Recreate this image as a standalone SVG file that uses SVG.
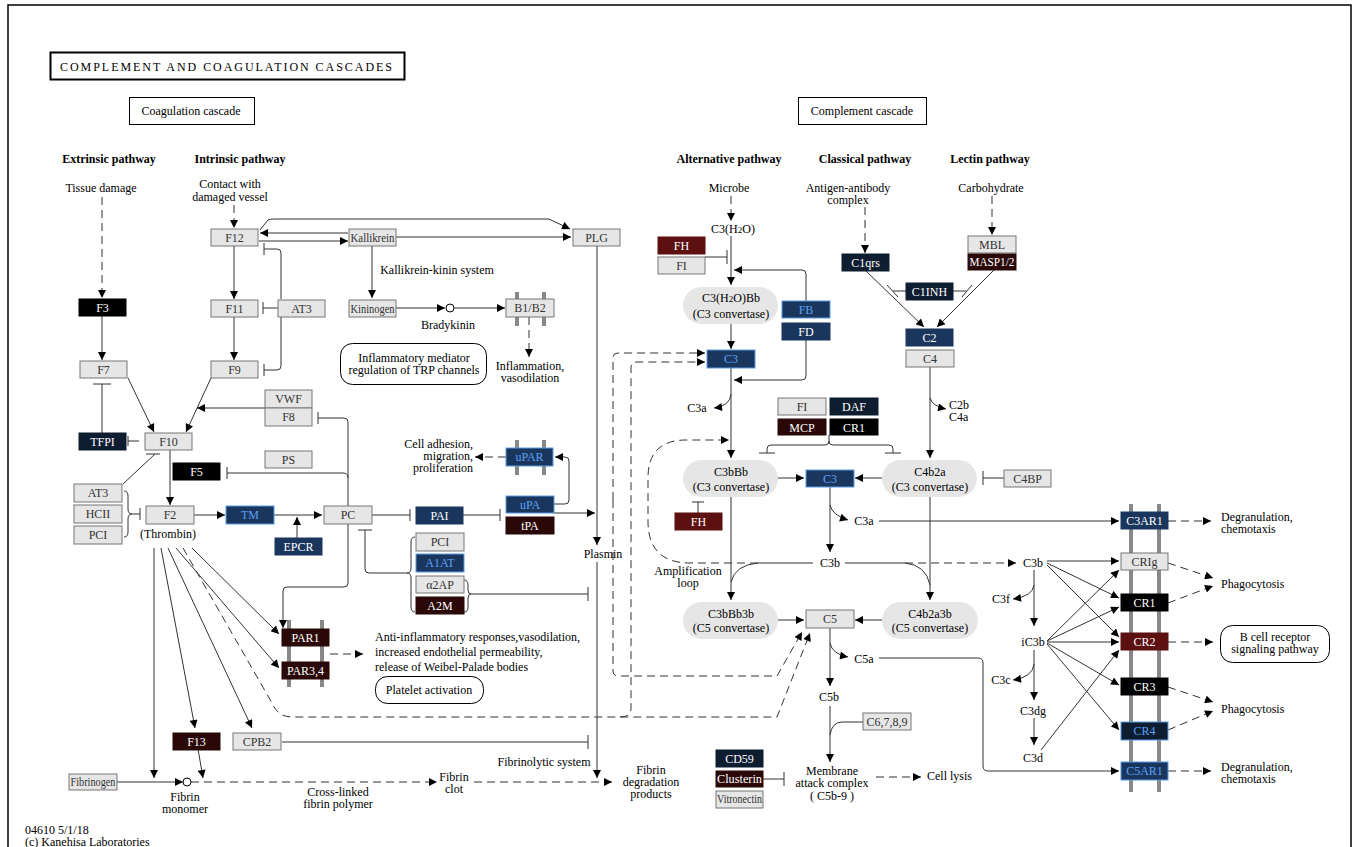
<svg xmlns="http://www.w3.org/2000/svg" width="1354" height="847" viewBox="0 0 1354 847">
<style>
.s{fill:none;stroke:#333;stroke-width:1}
.d{fill:none;stroke:#333;stroke-width:1;stroke-dasharray:8 5}
.ar{marker-end:url(#ah)}
.t{font-family:"Liberation Serif",serif;font-size:12px;fill:#000}
.c{text-anchor:middle}
.e{text-anchor:end}
.b{font-weight:bold}
.n text{font-family:"Liberation Serif",serif;font-size:12px;text-anchor:middle}
.g rect{fill:#e6e6e6;stroke:#777}
.g text{fill:#333}
.nv rect{fill:#1b365d;stroke:#1b365d}
.nv text{fill:#fff}
.nb rect{fill:#1b365d;stroke:#5b9be6}
.nb text{fill:#5ba2f5}
.nd rect{fill:#0f1d30;stroke:#0f1d30}
.nd text{fill:#fff}
.ndb rect{fill:#0f1d30;stroke:#5b9be6}
.ndb text{fill:#5ba2f5}
.bk rect{fill:#000;stroke:#000}
.bk text{fill:#fff}
.br rect{fill:#2a0808;stroke:#2a0808}
.br text{fill:#fff}
.rd rect{fill:#5c1010;stroke:#5c1010}
.rd text{fill:#fff}
.el rect{fill:#e6e6e6;stroke:none}
.mb{stroke:#888;stroke-width:4}
.box{fill:#fff;stroke:#000;stroke-width:1}
</style>
<defs>
<marker id="ah" viewBox="0 0 10 10" refX="10" refY="5" markerWidth="9" markerHeight="8" markerUnits="userSpaceOnUse" orient="auto"><path d="M0,0 L10,5 L0,10 z" fill="#000"/></marker>
</defs>
<rect x="0" y="0" width="1354" height="847" fill="#fff"/>
<rect x="8" y="5" width="1343" height="860" fill="none" stroke="#000" stroke-width="1.5"/>

<g id="titles">
<rect x="50.5" y="52.5" width="354" height="27" fill="#fff" stroke="#000" stroke-width="2"/>
<text class="t" x="60" y="71" textLength="332" lengthAdjust="spacing" font-size="13">COMPLEMENT AND COAGULATION CASCADES</text>
<rect class="box" x="129.5" y="97.5" width="125" height="27"/>
<text class="t c" x="191" y="115">Coagulation cascade</text>
<rect class="box" x="798.5" y="97.5" width="128" height="27"/>
<text class="t c" x="862" y="115">Complement cascade</text>
<text class="t c b" x="109" y="163">Extrinsic pathway</text>
<text class="t c b" x="240" y="163">Intrinsic pathway</text>
<text class="t c b" x="729" y="163">Alternative pathway</text>
<text class="t c b" x="865" y="163">Classical pathway</text>
<text class="t c b" x="990" y="163">Lectin pathway</text>
</g>

<g id="membranes">
<line class="mb" x1="1131" y1="504" x2="1131" y2="792"/>
<line class="mb" x1="1159" y1="504" x2="1159" y2="792"/>
<line class="mb" x1="289" y1="620" x2="289" y2="687"/>
<line class="mb" x1="322" y1="620" x2="322" y2="687"/>
<line class="mb" x1="517" y1="440" x2="517" y2="475"/>
<line class="mb" x1="544" y1="440" x2="544" y2="475"/>
<line class="mb" x1="517" y1="292" x2="517" y2="326"/>
<line class="mb" x1="544" y1="292" x2="544" y2="326"/>
</g>

<g id="connectors">
<path class="d ar" d="M102,197 V298"/>
<path class="d ar" d="M234,205 V228"/>
<path class="s ar" d="M348,233 H260"/>
<path class="s ar" d="M259,241 H348"/>
<path class="s" d="M281,299 V253 Q281,249 277,249 H264 M264,243 V255"/>
<path class="s" d="M281,317 V366 Q281,370 277,370 H264 M264,364 V376"/>
<path class="s" d="M278,308 H263 M263,302 V314"/>
<path class="s ar" d="M234,246 V299"/>
<path class="s ar" d="M234,317 V360"/>
<path class="s ar" d="M102,316 V360"/>
<path class="s ar" d="M128,378 L154,432"/>
<path class="s ar" d="M211,378 L186,432"/>
<path class="s ar" d="M265,408 H197"/>
<path class="s" d="M102,433 V384 M93,384 H111"/>
<path class="s" d="M128,441 H139 M128,436 V446"/>
<path class="s" d="M123,484 L155,454 M146,454 H160"/>
<path class="s" d="M124,491 Q128,491 128,496 V509 Q128,514 132,514 Q128,514 128,519 V532 Q128,537 124,537 M132,514 H140 M140,508 V520"/>
<path class="s ar" d="M170,450 V505"/>
<path class="s ar" d="M194,515 H225"/>
<path class="s ar" d="M274,515 H322"/>
<path class="s ar" d="M297,538 V517"/>
<path class="s" d="M348,506 V422 Q348,418 344,418 H318 M318,412 V424"/>
<path class="s" d="M348,478 Q348,473 343,473 H227 M227,467 V479"/>
<path class="s ar" d="M348,524 V583 Q348,587 344,587 H287 Q283,587 283,591 V628"/>
<path class="s" d="M372,515 H410 M410,509 V521"/>
<path class="s" d="M463,515 H500 M500,509 V521"/>
<path class="s" d="M358,530 H372 M365,530 V569 Q365,573 369,573 H407"/>
<path class="s" d="M415,537 Q411,537 411,542 V568 Q411,573 407,573 Q411,573 411,578 V607 Q411,612 415,612"/>
<path class="s" d="M464,580 Q468,580 468,585 V590 Q468,594 471,594 Q468,594 468,598 V607 Q468,612 464,612 M471,594 H588 M588,587 V601"/>
<path class="s ar" d="M554,504 H565 Q569,504 569,500 V461 Q569,457 565,457 H555"/>
<path class="d ar" d="M506,457 H475"/>
<path class="s ar" d="M554,513 H595"/>
<path class="s ar" d="M597,246 V545"/>
<path class="s ar" d="M597,562 V778"/>
<path class="d ar" d="M474,782 H612"/>
<path class="s" d="M282,742 H588 M588,735 V749"/>
<path class="s ar" d="M154,548 V778"/>
<path class="s ar" d="M161,548 L195,728"/>
<path class="s ar" d="M168,548 L252,728"/>
<path class="s ar" d="M176,548 L279,668"/>
<path class="s ar" d="M192,548 L279,634"/>
<path class="d ar" d="M183,548 L272,703 Q278,717 292,717 H777 L810,633"/>
<path class="d ar" d="M620,717 Q631,717 631,708 V368 Q631,362 637,362 H705"/>
<path class="d ar" d="M613,500 V358 Q613,353 618,353 H705"/>
<path class="d ar" d="M613,500 V671 Q613,676 618,676 H777 L802,632"/>
<path class="s ar" d="M117,782 H183"/>
<path class="s ar" d="M198,749 L203,778"/>
<path class="d ar" d="M191,782 H437"/>
<path class="s ar" d="M396,237 H571"/>
<path class="s ar" d="M260,230 L268,220 Q270,219 274,219 H549 L570,229"/>
<path class="s ar" d="M372,246 V298"/>
<path class="s ar" d="M396,308 H445"/>
<path class="s ar" d="M454,308 H505"/>
<path class="d ar" d="M529,317 V357"/>
<path class="d ar" d="M330,654 H363"/>
<path class="d ar" d="M731,196 V221"/>
<path class="s ar" d="M731,236 V285"/>
<path class="s" d="M705,257 H727 M727,250 V264"/>
<path class="s ar" d="M806,301 V274 Q806,270 802,270 H734"/>
<path class="s ar" d="M731,324 V349"/>
<path class="s ar" d="M806,339 V376 Q806,380 802,380 H734"/>
<path class="s ar" d="M731,368 V458"/>
<path class="s ar" d="M731,394 Q730,406 714,408"/>
<path class="s" d="M829,435 V441 Q829,445 825,445 H771 Q767,445 767,449 V453 M759,453 H775 M829,441 Q829,445 833,445 H889 Q893,445 893,449 V453 M885,453 H901"/>
<path class="s ar" d="M778,478 H804"/>
<path class="s ar" d="M882,478 H855"/>
<path class="s" d="M698,513 V502 M692,502 H704"/>
<path class="s" d="M1004,478 H983 M983,471 V485"/>
<path class="s ar" d="M930,367 V458"/>
<path class="s ar" d="M930,398 Q932,406 946,409"/>
<path class="s ar" d="M866,271 L924,327"/>
<path class="s ar" d="M994,270 L937,327"/>
<path class="s" d="M906,291 H893 M887,285 L898,297 M953,291 H966 M972,285 L962,297"/>
<path class="d ar" d="M865,207 V253"/>
<path class="d ar" d="M992,196 V235"/>
<path class="s ar" d="M830,487 V552"/>
<path class="s ar" d="M830,505 Q832,515 848,520"/>
<path class="s ar" d="M879,521 H1119"/>
<path class="s ar" d="M731,497 V600"/>
<path class="s ar" d="M930,497 V600"/>
<path class="d ar" d="M758,563 H690 Q648,563 648,521 V478 Q648,440 686,440 H729"/>
<path class="s" d="M813,563 H758 Q735,565 731,582"/>
<path class="s" d="M845,563 H905 Q926,565 930,585"/>
<path class="d ar" d="M905,563 H1016"/>
<path class="s ar" d="M778,620 H804"/>
<path class="s ar" d="M882,620 H855"/>
<path class="s ar" d="M830,628 V686"/>
<path class="s ar" d="M830,643 Q832,654 848,657"/>
<path class="s ar" d="M879,658 H978 Q983,658 983,663 V766 Q983,771 988,771 H1119"/>
<path class="s ar" d="M830,706 V762"/>
<path class="s" d="M863,722 H842 Q832,722 830,735"/>
<path class="s" d="M763,779 H784 M784,772 V786"/>
<path class="d ar" d="M876,777 H921"/>
<path class="s ar" d="M1047,561 H1119"/>
<path class="s ar" d="M1047,563 L1119,598"/>
<path class="s ar" d="M1047,565 L1119,637"/>
<path class="s ar" d="M1034,570 V626"/>
<path class="s ar" d="M1034,585 Q1033,596 1013,599"/>
<path class="s ar" d="M1047,641 L1119,570"/>
<path class="s ar" d="M1047,641 L1119,607"/>
<path class="s ar" d="M1047,642 H1119"/>
<path class="s ar" d="M1047,643 L1119,685"/>
<path class="s ar" d="M1047,644 L1119,730"/>
<path class="s ar" d="M1034,650 V700"/>
<path class="s ar" d="M1034,664 Q1033,677 1013,680"/>
<path class="s ar" d="M1034,718 V745"/>
<path class="s ar" d="M1041,750 L1119,650"/>
<path class="d ar" d="M1168,563 L1213,578"/>
<path class="d ar" d="M1168,603 L1213,586"/>
<path class="d ar" d="M1168,642 H1213"/>
<path class="d ar" d="M1168,687 L1213,702"/>
<path class="d ar" d="M1168,730 L1213,711"/>
<path class="d ar" d="M1168,521 H1211"/>
<path class="d ar" d="M1168,771 H1211"/>
<circle cx="187" cy="782" r="4" fill="#fff" stroke="#000"/>
<circle cx="450" cy="308" r="4" fill="#fff" stroke="#000"/>
</g>

<g id="nodes">
<g id="F12" class="n g"><rect x="211" y="229" width="47" height="17"/><text x="234.5" y="242">F12</text></g>
<g id="Kallikrein" class="n g"><rect x="349" y="229" width="47" height="17"/><text x="372.5" y="242" font-size="10" textLength="44" lengthAdjust="spacingAndGlyphs">Kallikrein</text></g>
<g id="F11" class="n g"><rect x="211" y="300" width="47" height="17"/><text x="234.5" y="313">F11</text></g>
<g id="AT3a" class="n g"><rect x="278" y="300" width="47" height="17"/><text x="301.5" y="313">AT3</text></g>
<g id="Kininogen" class="n g"><rect x="349" y="300" width="47" height="17"/><text x="372.5" y="313" font-size="10" textLength="44" lengthAdjust="spacingAndGlyphs">Kininogen</text></g>
<g id="F3" class="n bk"><rect x="79" y="299" width="47" height="17"/><text x="102.5" y="312">F3</text></g>
<g id="F7" class="n g"><rect x="80" y="361" width="47" height="17"/><text x="103.5" y="374">F7</text></g>
<g id="F9" class="n g"><rect x="211" y="361" width="47" height="17"/><text x="234.5" y="374">F9</text></g>
<g id="VWF" class="n g"><rect x="265" y="390" width="47" height="18"/><text x="288.5" y="403">VWF</text></g>
<g id="F8" class="n g"><rect x="265" y="408" width="47" height="18"/><text x="288.5" y="421">F8</text></g>
<g id="TFPI" class="n nd"><rect x="79" y="433" width="47" height="17"/><text x="102.5" y="446">TFPI</text></g>
<g id="F10" class="n g"><rect x="145" y="433" width="47" height="17"/><text x="168.5" y="446">F10</text></g>
<g id="PS" class="n g"><rect x="265" y="451" width="47" height="17"/><text x="288.5" y="464">PS</text></g>
<g id="F5" class="n bk"><rect x="173" y="463" width="47" height="17"/><text x="196.5" y="476">F5</text></g>
<g id="AT3b" class="n g"><rect x="74" y="484" width="48" height="18"/><text x="98" y="497">AT3</text></g>
<g id="HCII" class="n g"><rect x="74" y="505" width="48" height="18"/><text x="98" y="518">HCII</text></g>
<g id="PCIa" class="n g"><rect x="74" y="526" width="48" height="18"/><text x="98" y="539">PCI</text></g>
<g id="F2" class="n g"><rect x="146" y="506" width="48" height="18"/><text x="170" y="519">F2</text></g>
<g id="TM" class="n nb"><rect x="226" y="506" width="48" height="18"/><text x="250" y="519">TM</text></g>
<g id="PC" class="n g"><rect x="324" y="506" width="48" height="18"/><text x="348" y="519">PC</text></g>
<g id="PAI" class="n nv"><rect x="416" y="507" width="47" height="17"/><text x="439.5" y="520">PAI</text></g>
<g id="EPCR" class="n nv"><rect x="275" y="538" width="47" height="17"/><text x="298.5" y="551">EPCR</text></g>
<g id="uPAR" class="n nb"><rect x="506" y="448" width="47" height="18"/><text x="529.5" y="461">uPAR</text></g>
<g id="uPA" class="n nb"><rect x="506" y="496" width="48" height="17"/><text x="530" y="509">uPA</text></g>
<g id="tPA" class="n br"><rect x="506" y="517" width="48" height="17"/><text x="530" y="530">tPA</text></g>
<g id="PCIb" class="n g"><rect x="416" y="533" width="48" height="18"/><text x="440" y="546">PCI</text></g>
<g id="A1AT" class="n nb"><rect x="416" y="554" width="48" height="18"/><text x="440" y="567">A1AT</text></g>
<g id="a2AP" class="n g"><rect x="416" y="576" width="48" height="17"/><text x="440" y="589">α2AP</text></g>
<g id="A2M" class="n br"><rect x="416" y="597" width="48" height="17"/><text x="440" y="610">A2M</text></g>
<g id="PLG" class="n g"><rect x="573" y="229" width="47" height="17"/><text x="596.5" y="242">PLG</text></g>
<g id="B1B2" class="n g"><rect x="506" y="299" width="48" height="18"/><text x="530" y="312">B1/B2</text></g>
<g id="PAR1" class="n br"><rect x="282" y="629" width="47" height="17"/><text x="305.5" y="642">PAR1</text></g>
<g id="PAR34" class="n br"><rect x="282" y="662" width="47" height="17"/><text x="305.5" y="675">PAR3,4</text></g>
<g id="F13" class="n br"><rect x="173" y="733" width="47" height="17"/><text x="196.5" y="746">F13</text></g>
<g id="CPB2" class="n g"><rect x="233" y="733" width="48" height="17"/><text x="257" y="746">CPB2</text></g>
<g id="Fibrinogen" class="n g"><rect x="69" y="774" width="48" height="16"/><text x="93" y="786" font-size="10" textLength="45" lengthAdjust="spacingAndGlyphs">Fibrinogen</text></g>
<g id="FHa" class="n rd"><rect x="658" y="237" width="47" height="17"/><text x="681.5" y="250">FH</text></g>
<g id="FIa" class="n g"><rect x="658" y="257" width="47" height="17"/><text x="681.5" y="270">FI</text></g>
<g id="FB" class="n nb"><rect x="782" y="301" width="48" height="17"/><text x="806" y="314">FB</text></g>
<g id="FD" class="n nv"><rect x="782" y="323" width="48" height="17"/><text x="806" y="336">FD</text></g>
<g id="C3a" class="n nb"><rect x="707" y="350" width="48" height="18"/><text x="731" y="363">C3</text></g>
<g id="FIb" class="n g"><rect x="778" y="398" width="48" height="17"/><text x="802" y="411">FI</text></g>
<g id="DAF" class="n nd"><rect x="830" y="398" width="48" height="17"/><text x="854" y="411">DAF</text></g>
<g id="MCP" class="n br"><rect x="778" y="419" width="48" height="16"/><text x="802" y="432">MCP</text></g>
<g id="CR1a" class="n bk"><rect x="830" y="419" width="48" height="16"/><text x="854" y="432">CR1</text></g>
<g id="C3b" class="n nb"><rect x="806" y="470" width="48" height="17"/><text x="830" y="483">C3</text></g>
<g id="FHb" class="n rd"><rect x="675" y="513" width="47" height="17"/><text x="698.5" y="526">FH</text></g>
<g id="C4BP" class="n g"><rect x="1004" y="470" width="47" height="17"/><text x="1027.5" y="483">C4BP</text></g>
<g id="C1qrs" class="n nd"><rect x="842" y="254" width="47" height="17"/><text x="865.5" y="267">C1qrs</text></g>
<g id="MBL" class="n g"><rect x="968" y="236" width="48" height="17"/><text x="992" y="249">MBL</text></g>
<g id="MASP" class="n br"><rect x="968" y="254" width="48" height="16"/><text x="992" y="266" textLength="45" lengthAdjust="spacingAndGlyphs">MASP1/2</text></g>
<g id="C1INH" class="n nd"><rect x="906" y="283" width="47" height="17"/><text x="929.5" y="296">C1INH</text></g>
<g id="C2" class="n nv"><rect x="906" y="329" width="47" height="17"/><text x="929.5" y="342">C2</text></g>
<g id="C4" class="n g"><rect x="906" y="350" width="48" height="17"/><text x="930" y="363">C4</text></g>
<g id="C5" class="n g"><rect x="806" y="610" width="48" height="18"/><text x="830" y="623">C5</text></g>
<g id="C6789" class="n g"><rect x="863" y="713" width="48" height="17"/><text x="887" y="726" font-size="11">C6,7,8,9</text></g>
<g id="CD59" class="n nd"><rect x="716" y="750" width="47" height="17"/><text x="739.5" y="763">CD59</text></g>
<g id="Clusterin" class="n br"><rect x="716" y="771" width="47" height="16"/><text x="739.5" y="783" textLength="45" lengthAdjust="spacingAndGlyphs">Clusterin</text></g>
<g id="Vitronectin" class="n g"><rect x="716" y="791" width="47" height="17"/><text x="739.5" y="803" font-size="10" textLength="45" lengthAdjust="spacingAndGlyphs">Vitronectin</text></g>
<g id="C3AR1" class="n nv"><rect x="1121" y="512" width="47" height="17"/><text x="1144.5" y="525">C3AR1</text></g>
<g id="CRIg" class="n g"><rect x="1121" y="553" width="47" height="17"/><text x="1144.5" y="566">CRIg</text></g>
<g id="CR1b" class="n bk"><rect x="1121" y="594" width="47" height="17"/><text x="1144.5" y="607">CR1</text></g>
<g id="CR2" class="n rd"><rect x="1121" y="633" width="47" height="17"/><text x="1144.5" y="646">CR2</text></g>
<g id="CR3" class="n bk"><rect x="1121" y="678" width="47" height="17"/><text x="1144.5" y="691">CR3</text></g>
<g id="CR4" class="n ndb"><rect x="1121" y="722" width="47" height="18"/><text x="1144.5" y="735">CR4</text></g>
<g id="C5AR1" class="n nb"><rect x="1121" y="762" width="47" height="18"/><text x="1144.5" y="775">C5AR1</text></g>
<g id="C3H2OBb" class="n el"><rect x="683" y="287" width="95" height="37" rx="18.5"/><text x="731" y="302" fill="#000">C3(H<tspan font-size="9">2</tspan>O)Bb</text><text x="731" y="318" fill="#000">(C3 convertase)</text></g>
<g id="C3bBb" class="n el"><rect x="683" y="460" width="95" height="37" rx="18.5"/><text x="731" y="476" fill="#000">C3bBb</text><text x="731" y="491" fill="#000">(C3 convertase)</text></g>
<g id="C4b2a" class="n el"><rect x="882" y="460" width="95" height="37" rx="18.5"/><text x="930" y="476" fill="#000">C4b2a</text><text x="930" y="491" fill="#000">(C3 convertase)</text></g>
<g id="C3bBb3b" class="n el"><rect x="683" y="602" width="95" height="37" rx="18.5"/><text x="731" y="618" fill="#000">C3bBb3b</text><text x="731" y="632" fill="#000">(C5 convertase)</text></g>
<g id="C4b2a3b" class="n el"><rect x="882" y="602" width="96" height="37" rx="18.5"/><text x="930" y="618" fill="#000">C4b2a3b</text><text x="930" y="632" fill="#000">(C5 convertase)</text></g>
</g>

<g id="labels">
<text class="t c" x="101" y="192">Tissue damage</text>
<text class="t c" x="230" y="188">Contact with</text>
<text class="t c" x="230" y="201">damaged vessel</text>
<text class="t c" x="437" y="274">Kallikrein-kinin system</text>
<text class="t c" x="448" y="329">Bradykinin</text>
<rect class="box" x="340.5" y="343.5" width="146" height="41" rx="12"/>
<text class="t c" x="414" y="362">Inflammatory mediator</text>
<text class="t c" x="414" y="374">regulation of TRP channels</text>
<text class="t c" x="530" y="370">Inflammation,</text>
<text class="t c" x="530" y="382">vasodilation</text>
<text class="t e" x="473" y="448">Cell adhesion,</text>
<text class="t e" x="473" y="460">migration,</text>
<text class="t e" x="473" y="472">proliferation</text>
<text class="t c" x="168" y="538">(Thrombin)</text>
<text class="t c" x="603" y="558">Plasmin</text>
<text class="t" x="375" y="641">Anti-inflammatory responses,vasodilation,</text>
<text class="t" x="375" y="656">increased endothelial permeability,</text>
<text class="t" x="375" y="671">release of Weibel-Palade bodies</text>
<rect class="box" x="375.5" y="676.5" width="108" height="27" rx="12"/>
<text class="t c" x="429" y="694">Platelet activation</text>
<text class="t c" x="185" y="801">Fibrin</text>
<text class="t c" x="185" y="813">monomer</text>
<text class="t c" x="338" y="796">Cross-linked</text>
<text class="t c" x="338" y="808">fibrin polymer</text>
<text class="t c" x="454" y="781">Fibrin</text>
<text class="t c" x="454" y="793">clot</text>
<text class="t c" x="544" y="766">Fibrinolytic system</text>
<text class="t c" x="651" y="774">Fibrin</text>
<text class="t c" x="651" y="786">degradation</text>
<text class="t c" x="651" y="798">products</text>
<text class="t" x="25" y="834">04610 5/1/18</text>
<text class="t" x="25" y="846">(c) Kanehisa Laboratories</text>
<text class="t c" x="729" y="192">Microbe</text>
<text class="t c" x="733" y="233">C3(H<tspan font-size="9">2</tspan>O)</text>
<text class="t c" x="848" y="192">Antigen-antibody</text>
<text class="t c" x="848" y="204">complex</text>
<text class="t c" x="991" y="192">Carbohydrate</text>
<text class="t c" x="697" y="412">C3a</text>
<text class="t" x="949" y="409">C2b</text>
<text class="t" x="949" y="421">C4a</text>
<text class="t c" x="864" y="525">C3a</text>
<text class="t c" x="830" y="567">C3b</text>
<text class="t c" x="688" y="575">Amplification</text>
<text class="t c" x="688" y="587">loop</text>
<text class="t c" x="864" y="663">C5a</text>
<text class="t c" x="829" y="701">C5b</text>
<text class="t c" x="832" y="775">Membrane</text>
<text class="t c" x="832" y="787">attack complex</text>
<text class="t c" x="832" y="800">( C5b-9 )</text>
<text class="t" x="927" y="780">Cell lysis</text>
<text class="t c" x="1033" y="567">C3b</text>
<text class="t c" x="1001" y="603">C3f</text>
<text class="t c" x="1033" y="646">iC3b</text>
<text class="t c" x="1001" y="684">C3c</text>
<text class="t c" x="1033" y="715">C3dg</text>
<text class="t c" x="1033" y="762">C3d</text>
<text class="t" x="1221" y="521">Degranulation,</text>
<text class="t" x="1221" y="533">chemotaxis</text>
<text class="t" x="1221" y="588">Phagocytosis</text>
<rect class="box" x="1220.5" y="625.5" width="109" height="37" rx="12"/>
<text class="t c" x="1275" y="641">B cell receptor</text>
<text class="t c" x="1275" y="653">signaling pathway</text>
<text class="t" x="1221" y="713">Phagocytosis</text>
<text class="t" x="1221" y="771">Degranulation,</text>
<text class="t" x="1221" y="783">chemotaxis</text>
</g>
</svg>
